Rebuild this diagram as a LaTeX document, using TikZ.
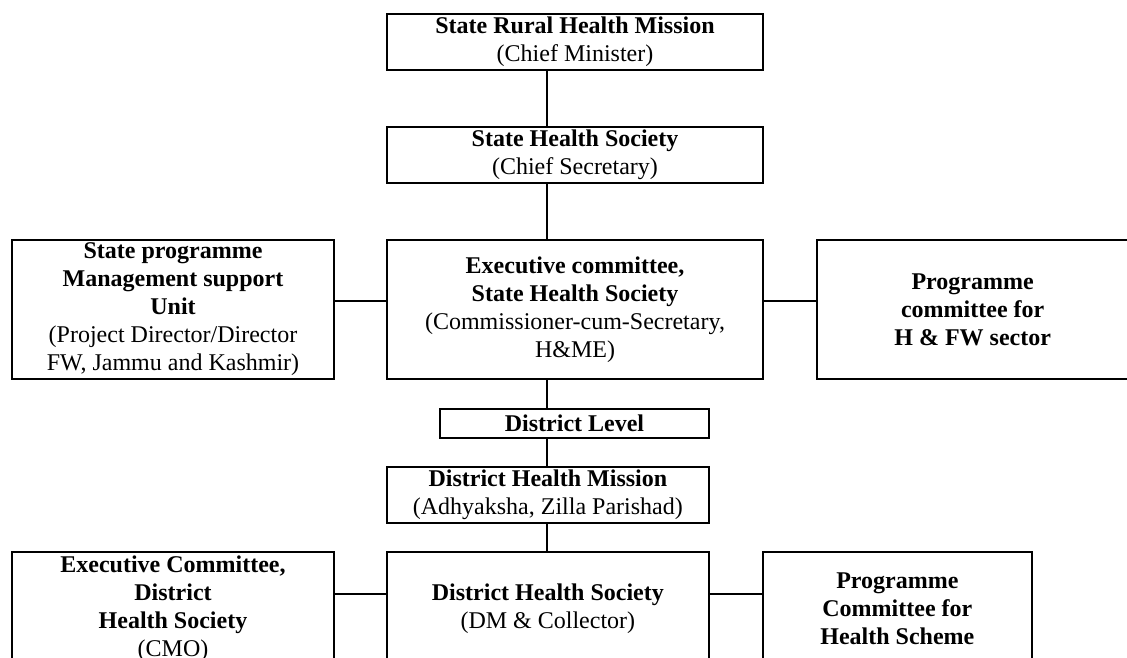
\documentclass[tikz,border=0pt]{standalone}
\usepackage{fontspec}
\setmainfont{Liberation Serif}
\usetikzlibrary{positioning, calc}

\begin{document}
\begin{tikzpicture}[line width=1pt, node distance=28pt,
    box/.style={draw, rectangle, align=center, inner sep=1pt,
      font=\fontsize{12pt}{14pt}\selectfont}]
			\useasboundingbox (0,0) rectangle (563.5pt,-328.5pt);
			\clip (0,0) rectangle (563.5pt,-328.5pt);
			
			% state level
			\node[box, minimum width=188.3pt, minimum height=28.3pt, anchor=north west] (SRHM) at (192.85pt,-6.35pt) {\textbf{State Rural Health Mission}\\(Chief Minister)};
			\node[box, minimum width=188.3pt, minimum height=28pt] (SHS) [below=27.35pt of SRHM] {\textbf{State Health Society}\\(Chief Secretary)};
			\node[box, minimum width=188.3pt, minimum height=69.5pt] (EC) [below=27.5pt of SHS] {\textbf{Executive committee,}\\\textbf{State Health Society}\\(Commissioner-cum-Secretary,\\H\&ME)};
			\node[box, minimum width=161pt, minimum height=69.5pt] (SPMSU) [left=25.35pt of EC] {\textbf{State programme}\\\textbf{Management support}\\\textbf{Unit}\\(Project Director/Director\\FW, Jammu and Kashmir)};
			\node[box, minimum width=155.35pt, minimum height=69.5pt] (PC) [right=26pt of EC] {\textbf{Programme}\\\textbf{committee for}\\\textbf{H \& FW sector}};
			
			% district level
			\node[box, minimum width=134.5pt, minimum height=14.5pt, inner sep=0pt, anchor=north west] (DL) at (219.5pt,-204pt) {\textbf{District Level}};
			\node[box, minimum width=161.15pt, minimum height=28pt, anchor=north west] (DHM) at (192.85pt,-233pt) {\textbf{District Health Mission}\\(Adhyaksha, Zilla Parishad)};
			\node[box, minimum width=161.15pt, minimum height=57pt] (DHS) [below=13.5pt of DHM] {\textbf{District Health Society}\\(DM \& Collector)};
			\node[box, minimum width=161pt, minimum height=57pt] (ECD) [left=25.35pt of DHS.north west, anchor=north east] {\textbf{Executive Committee,}\\\textbf{District}\\\textbf{Health Society}\\(CMO)};
			\node[box, minimum width=134.35pt, minimum height=57pt] (PCD) [right=26pt of DHS.north east, anchor=north west] {\textbf{Programme}\\\textbf{Committee for}\\\textbf{Health Scheme}};
			
			\coordinate (spine) at (273.35pt,0);
			\coordinate (rowA) at (0,-150.35pt);
			\coordinate (rowB) at (0,-297pt);
			
			\path
			(SRHM.south -| spine) edge (SHS.north -| spine)
			(SHS.south -| spine) edge (EC.north -| spine)
			(EC.south -| spine) edge (DL.north -| spine)
			(DL.south -| spine) edge (DHM.north -| spine)
			(DHM.south -| spine) edge (DHS.north -| spine)
			(SPMSU.east |- rowA) edge (EC.west |- rowA)
			(EC.east |- rowA) edge (PC.west |- rowA)
			(ECD.east |- rowB) edge (DHS.west |- rowB)
			(DHS.east |- rowB) edge (PCD.west |- rowB);
\end{tikzpicture}
\end{document}
